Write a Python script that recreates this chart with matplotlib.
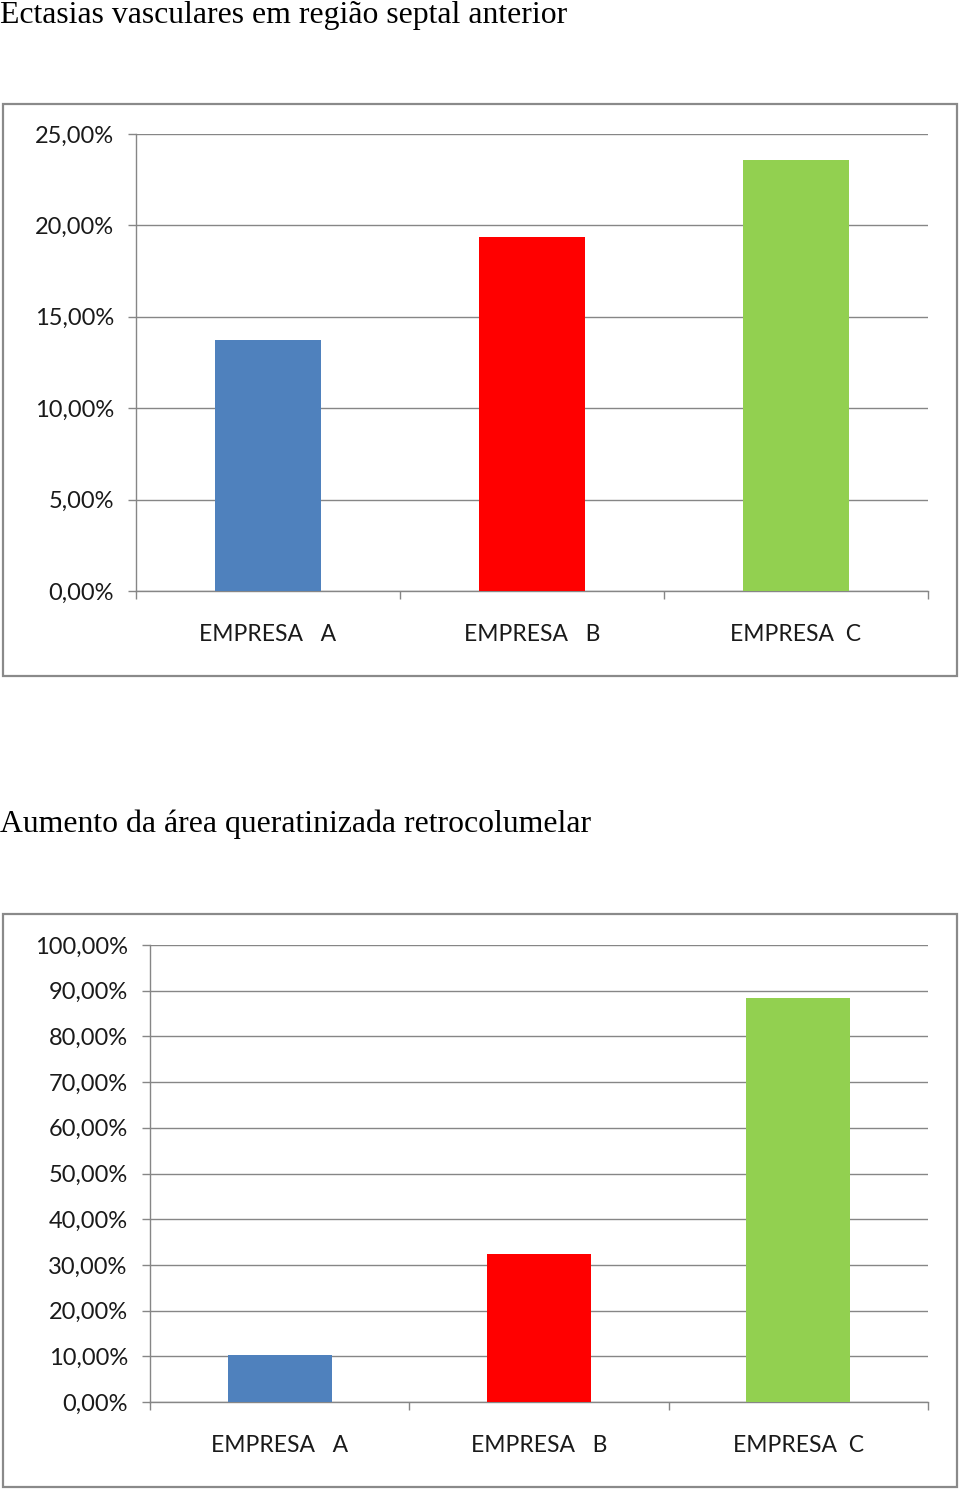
import matplotlib
matplotlib.use("Agg")
import matplotlib.pyplot as plt
import matplotlib.ticker as mticker
from matplotlib.patches import Rectangle

# ── Data ─────────────────────────────────────────────────────────────
categories = ["EMPRESA   A", "EMPRESA   B", "EMPRESA  C"]
colors = ["#4F81BD", "#FF0000", "#92D050"]

title_top = "Ectasias vasculares em região septal anterior"
values_top = [13.75, 19.35, 23.6]
yticks_top = [0, 5, 10, 15, 20, 25]

title_bottom = "Aumento da área queratinizada retrocolumelar"
values_bottom = [10.3, 32.3, 88.4]
yticks_bottom = [0, 10, 20, 30, 40, 50, 60, 70, 80, 90, 100]

W, H = 960, 1492
GRID = "#868686"
TXT = "#1a1a1a"
LABEL_FONT = ["Lato", "DejaVu Sans"]

fig = plt.figure(figsize=(W / 100, H / 100), dpi=100)


def px_box(x0, y0, x1, y1):
    # pixel box (top-left origin) -> figure fraction [l, b, w, h]
    return [x0 / W, 1 - y1 / H, (x1 - x0) / W, (y1 - y0) / H]


def draw_chart(title, title_y, frame, axbox, values, yticks):
    fig.text(0 / W, 1 - title_y / H, title, family="Liberation Serif",
             fontsize=22.9, color="black", va="center", ha="left")
    l, b, w, h = px_box(*frame)
    fig.patches.append(Rectangle((l, b), w, h, transform=fig.transFigure,
                                 fill=False, edgecolor="#8a8a8a", lw=1.6))
    ax = fig.add_axes(px_box(*axbox))
    x = range(len(categories))
    ax.bar(x, values, width=0.4, color=colors, zorder=3)
    ax.set_xlim(-0.5, len(categories) - 0.5)
    ax.set_ylim(yticks[0], yticks[-1])
    ax.set_yticks(yticks)
    ax.yaxis.set_major_formatter(
        mticker.FuncFormatter(lambda v, _: f"{v:.2f}%".replace(".", ",")))
    ax.set_xticks(list(x))
    ax.set_xticklabels(categories)
    ax.set_xticks([i - 0.5 for i in range(len(categories) + 1)], minor=True)
    ax.tick_params(axis="x", which="major", length=0, pad=24)
    ax.tick_params(axis="x", which="minor", length=6, width=1, color=GRID)
    ax.tick_params(axis="y", length=6, width=1, color=GRID, pad=10)
    for lab in ax.get_yticklabels():
        lab.set_family(LABEL_FONT)
        lab.set_fontsize(17)
        lab.set_color(TXT)
    for lab in ax.get_xticklabels():
        lab.set_family(LABEL_FONT)
        lab.set_fontsize(16.5)
        lab.set_color(TXT)
    ax.grid(axis="y", color=GRID, lw=1.0, zorder=0)
    for s in ["top", "right"]:
        ax.spines[s].set_visible(False)
    for s in ["left", "bottom"]:
        ax.spines[s].set_color(GRID)
        ax.spines[s].set_linewidth(1.0)
    return ax


draw_chart(title_top, 15, (3, 104, 957, 676), (136, 134, 928, 591),
           values_top, yticks_top)
draw_chart(title_bottom, 824, (3, 914, 957, 1487), (150, 945, 928, 1402),
           values_bottom, yticks_bottom)

fig.savefig("out.png", dpi=100, facecolor="white")
